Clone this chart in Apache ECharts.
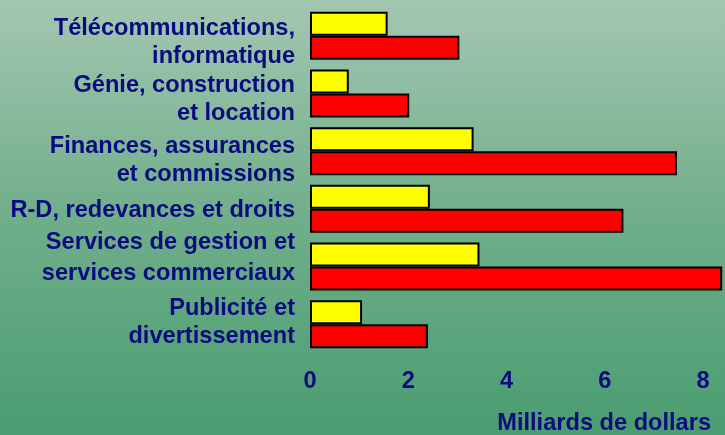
<!DOCTYPE html>
<html>
<head>
<meta charset="utf-8">
<script src="https://cdn.jsdelivr.net/npm/echarts@6/dist/echarts.min.js"></script>
<style>
html,body{margin:0;padding:0;}
#chart{width:725px;height:435px;}
</style>
</head>
<body>
<div id="chart"></div>
<script>
var categories = [
  "Télécommunications,\ninformatique",
  "Génie, construction\net location",
  "Finances, assurances\net commissions",
  "R-D, redevances et droits",
  "Services de gestion et\nservices commerciaux",
  "Publicité et\ndivertissement"
];
var yellowValues = [1.58, 0.79, 3.33, 2.44, 3.45, 1.06];
var redValues = [3.04, 2.02, 7.47, 6.38, 8.39, 2.40];
var xTicks = [0, 2, 4, 6, 8];
var axisTitle = "Milliards de dollars";

// layout only: vertical nudge (px) and line height of each category label
var labelShift = [7, 6, 9.5, 2, -8.5, -2];
var labelLineHeight = [28, 28, 28, 28, 31, 28];

var navy = "#0b0b80";
var font = "'Liberation Sans', Arial, sans-serif";
var fs = 23.6;

var rich = {};
labelShift.forEach(function (s, i) {
  rich['t' + i] = {
    fontSize: fs, fontWeight: 'bold', fontFamily: font, color: navy,
    lineHeight: labelLineHeight[i], align: 'right'
  };
  rich['g' + i] = {fontSize: 1, lineHeight: Math.max(1, 2 * Math.abs(s)), align: 'right'};
});

function labelFormatter(value, index) {
  var s = labelShift[index];
  var parts = value.split('\n').map(function (l) { return '{t' + index + '|' + l + '}'; });
  if (s > 0) parts.unshift('{g' + index + '| }');
  else if (s < 0) parts.push('{g' + index + '| }');
  return parts.join('\n');
}

var chart = echarts.init(document.getElementById('chart'));
chart.setOption({
  animation: false,
  backgroundColor: {
    type: 'linear', x: 0, y: 0, x2: 0, y2: 1,
    colorStops: [
      {offset: 0, color: '#a3c7b1'},
      {offset: 0.5, color: '#70ae8a'},
      {offset: 1, color: '#4a9d70'}
    ]
  },
  title: {
    text: axisTitle,
    right: 14,
    top: 411,
    padding: 0,
    textStyle: {color: navy, fontSize: fs, fontWeight: 'bold', fontFamily: font}
  },
  grid: {left: 310, right: 22, top: 7, bottom: 82, containLabel: false},
  xAxis: {
    type: 'value',
    min: xTicks[0],
    max: xTicks[xTicks.length - 1],
    interval: 2,
    axisLine: {show: false},
    axisTick: {show: false},
    splitLine: {show: false},
    axisLabel: {
      margin: 16,
      color: navy, fontSize: fs, fontWeight: 'bold', fontFamily: font
    }
  },
  yAxis: {
    type: 'category',
    inverse: true,
    data: categories,
    axisLine: {show: false},
    axisTick: {show: false},
    axisLabel: {
      margin: 15,
      interval: 0,
      showMinLabel: true,
      showMaxLabel: true,
      hideOverlap: false,
      align: 'right',
      formatter: labelFormatter,
      rich: rich,
      color: navy, fontSize: fs, fontWeight: 'bold', fontFamily: font
    }
  },
  series: [
    {
      type: 'bar',
      data: yellowValues,
      barWidth: 24,
      barGap: '0%',
      clip: false,
      itemStyle: {color: '#ffff00', borderColor: '#000', borderWidth: 2}
    },
    {
      type: 'bar',
      data: redValues,
      barWidth: 24,
      barGap: '0%',
      clip: false,
      itemStyle: {color: '#ff0000', borderColor: '#000', borderWidth: 2}
    }
  ]
});
</script>
</body>
</html>
